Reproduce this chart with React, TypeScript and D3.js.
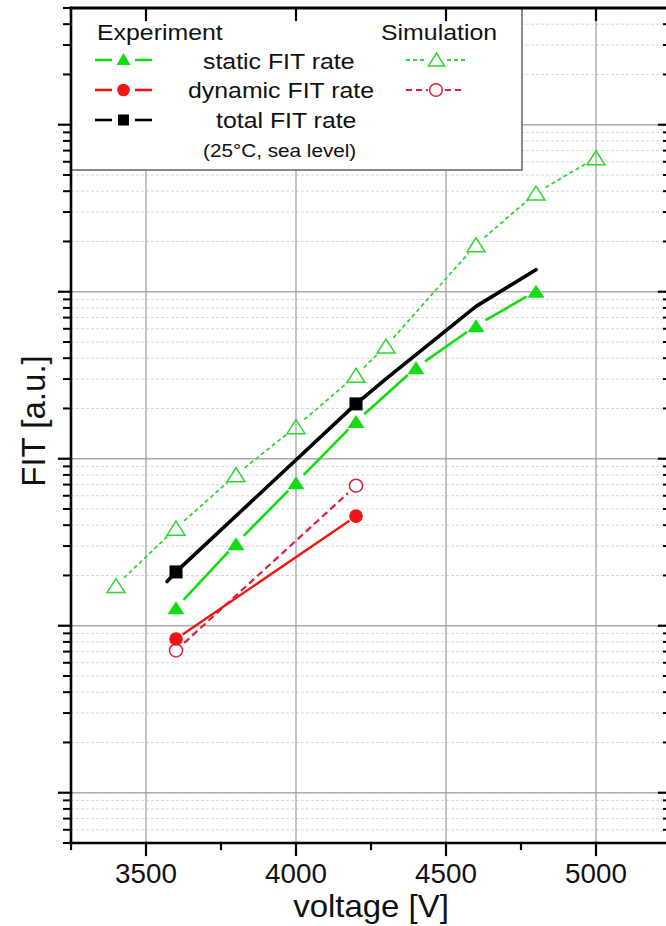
import React from "react";
import * as d3 from "d3";

// ---- data ----
const staticExpV = [3600, 3800, 4000, 4200, 4400, 4600, 4800];
const staticExpFit = [12.8, 31.0, 71.8, 167, 351, 626, 1007];

const dynamicExpV = [3600, 4200];
const dynamicExpFit = [8.33, 45.3];

const totalExpV = [3600, 4200];
const totalExpFit = [21.0, 213];
const totalLineV = [3570, 3600, 4200, 4300, 4600, 4800];
const totalLineFit = [18.4, 21.0, 213, 301, 817, 1354];

const staticSimV = [3400, 3600, 3800, 4000, 4200, 4300, 4600, 4800, 5000];
const staticSimFit = [17.4, 38.4, 80.2, 155.5, 316, 473, 1911, 3899, 6343];

const dynamicSimV = [3600, 4200];
const dynamicSimFit = [7.11, 68.9];

const xMajorTicks = [3500, 4000, 4500, 5000];
const xMinorTicks = [3250, 3750, 4250, 4750, 5250];
const yMajorTicks = [1, 10, 100, 1000, 10000];

const expHeader = "Experiment";
const simHeader = "Simulation";
const legendLabels = ["static FIT rate", "dynamic FIT rate", "total FIT rate"];
const legendNote = "(25°C, sea level)";
const xTitle = "voltage [V]";
const yTitle = "FIT [a.u.]";

// ---- styling ----
const W = 666;
const H = 926;
const FONT = "'Liberation Sans', Arial, Helvetica, sans-serif";
const GREEN = "#14dc14";
const GREEN_SIM = "#2ed82e";
const RED = "#f01414";
const RED_SIM = "#e0203a";

const x = d3.scaleLinear().domain([3250, 5250]).range([71, 671]);
const y = d3.scaleLog().domain([0.5, 50000]).range([843, 8]);

const yMinorTicks: number[] = [];
for (let e = -1; e <= 4; e++) {
  for (let k = 2; k <= 9; k++) {
    const v = k * Math.pow(10, e);
    if (v >= 0.5 && v <= 50000) yMinorTicks.push(v);
  }
}

type Pt = [number, number];

const toPts = (vs: number[], fs: number[]): Pt[] => vs.map((v, i) => [x(v), y(fs[i])]);

// line segments between consecutive points, pulled back from the symbols by `gap`
function gappedSegments(pts: Pt[], gap: number) {
  const segs: { x1: number; y1: number; x2: number; y2: number }[] = [];
  for (let i = 0; i < pts.length - 1; i++) {
    const [ax, ay] = pts[i];
    const [bx, by] = pts[i + 1];
    const len = Math.hypot(bx - ax, by - ay);
    if (len <= 2 * gap) continue;
    const ux = (bx - ax) / len;
    const uy = (by - ay) / len;
    segs.push({ x1: ax + ux * gap, y1: ay + uy * gap, x2: bx - ux * gap, y2: by - uy * gap });
  }
  return segs;
}

const triPath = (cx: number, cy: number, hw = 8, h = 13) =>
  `M${cx},${cy - h / 2}L${cx + hw},${cy + h / 2}L${cx - hw},${cy + h / 2}Z`;

function STxt(props: { x: number; y: number; size: number; sx?: number; anchor?: string; children: React.ReactNode }) {
  const { x: tx, y: ty, size, sx = 1, anchor = "start", children } = props;
  return (
    <text
      transform={`translate(${tx},${ty}) scale(${sx},1)`}
      fontSize={size}
      fontFamily={FONT}
      textAnchor={anchor}
      fill="#111"
    >
      {children}
    </text>
  );
}

export default function App() {
  const [x0, x1] = x.range();
  const [yb, yt] = y.range();

  const staticExp = toPts(staticExpV, staticExpFit);
  const dynamicExp = toPts(dynamicExpV, dynamicExpFit);
  const totalExp = toPts(totalExpV, totalExpFit);
  const totalLine = toPts(totalLineV, totalLineFit);
  const staticSim = toPts(staticSimV, staticSimFit);
  const dynamicSim = toPts(dynamicSimV, dynamicSimFit);

  const lineGen = d3.line<Pt>().x((d) => d[0]).y((d) => d[1]);

  const legendRows = [60, 90, 120];
  const legendTextY = [69, 98, 128];
  const legendTextX = [203, 188, 216];

  return (
    <svg
      width={W}
      height={H}
      viewBox={`0 0 ${W} ${H}`}
      style={{ position: "absolute", left: 0, top: 0, background: "#fff" }}
    >
      <rect x={0} y={0} width={W} height={H} fill="#fff" />

      {/* grid */}
      <g>
        {yMinorTicks.map((v) => (
          <line key={"ym" + v} x1={x0} x2={x1} y1={y(v)} y2={y(v)} stroke="#d6d6d6" strokeWidth={1} strokeDasharray="3,2" />
        ))}
        {yMajorTicks.map((v) => (
          <line key={"yM" + v} x1={x0} x2={x1} y1={y(v)} y2={y(v)} stroke="#ababab" strokeWidth={1.5} />
        ))}
        {xMajorTicks.map((v) => (
          <line key={"xM" + v} x1={x(v)} x2={x(v)} y1={yt} y2={yb} stroke="#9c9c9c" strokeWidth={1.2} />
        ))}
      </g>

      {/* simulation curves */}
      {gappedSegments(staticSim, 11).map((s, i) => (
        <line key={"ss" + i} {...s} stroke={GREEN_SIM} strokeWidth={1.8} strokeDasharray="4,3" />
      ))}
      {gappedSegments(dynamicSim, 11).map((s, i) => (
        <line key={"ds" + i} {...s} stroke={RED_SIM} strokeWidth={2.2} strokeDasharray="7,4" />
      ))}

      {/* experiment curves */}
      {gappedSegments(staticExp, 11).map((s, i) => (
        <line key={"se" + i} {...s} stroke={GREEN} strokeWidth={2.6} />
      ))}
      {gappedSegments(dynamicExp, 8).map((s, i) => (
        <line key={"de" + i} {...s} stroke={RED} strokeWidth={2.4} />
      ))}
      <path d={lineGen(totalLine) || ""} fill="none" stroke="#000" strokeWidth={3.6} strokeLinecap="round" strokeLinejoin="round" />

      {/* symbols */}
      {staticSim.map(([px, py], i) => (
        <path key={"sst" + i} d={triPath(px, py, 9, 14)} fill="none" stroke={GREEN_SIM} strokeWidth={1.5} />
      ))}
      {dynamicSim.map(([px, py], i) => (
        <circle key={"dsc" + i} cx={px} cy={py} r={6.5} fill="#fff" stroke={RED_SIM} strokeWidth={1.5} />
      ))}
      {staticExp.map(([px, py], i) => (
        <path key={"set" + i} d={triPath(px, py, 8.5, 13)} fill={GREEN} />
      ))}
      {dynamicExp.map(([px, py], i) => (
        <circle key={"dec" + i} cx={px} cy={py} r={6.8} fill={RED} />
      ))}
      {totalExp.map(([px, py], i) => (
        <rect key={"tes" + i} x={px - 6.5} y={py - 6.5} width={13} height={13} fill="#000" />
      ))}

      {/* legend */}
      <rect x={x0} y={yt} width={451} height={162} fill="#fff" stroke="#6e6e6e" strokeWidth={1.6} />
      <STxt x={97} y={40} size={22} sx={1.13}>{expHeader}</STxt>
      <STxt x={381} y={40} size={22} sx={1.13}>{simHeader}</STxt>
      {legendLabels.map((t, i) => (
        <STxt key={t} x={legendTextX[i]} y={legendTextY[i]} size={22} sx={1.13}>{t}</STxt>
      ))}
      <STxt x={203} y={157} size={18.5} sx={1.12}>{legendNote}</STxt>

      {/* experiment legend keys */}
      {[GREEN, RED, "#000"].map((c, i) => (
        <g key={"lk" + i}>
          <line x1={95} x2={112} y1={legendRows[i]} y2={legendRows[i]} stroke={c} strokeWidth={2.6} />
          <line x1={135} x2={152} y1={legendRows[i]} y2={legendRows[i]} stroke={c} strokeWidth={2.6} />
        </g>
      ))}
      <path d={triPath(123.5, 59, 7, 12)} fill={GREEN} />
      <circle cx={123.5} cy={90} r={6.3} fill={RED} />
      <rect x={118} y={114.5} width={11} height={11} fill="#000" />

      {/* simulation legend keys */}
      <line x1={406} x2={426} y1={60} y2={60} stroke={GREEN_SIM} strokeWidth={1.8} strokeDasharray="4,3" />
      <line x1={447} x2={467} y1={60} y2={60} stroke={GREEN_SIM} strokeWidth={1.8} strokeDasharray="4,3" />
      <path d={triPath(436.5, 59.5, 8, 13)} fill="none" stroke={GREEN_SIM} strokeWidth={1.5} />
      <line x1={406} x2={428} y1={90} y2={90} stroke={RED_SIM} strokeWidth={2.2} strokeDasharray="6,4" />
      <line x1={445} x2={465} y1={90} y2={90} stroke={RED_SIM} strokeWidth={2.2} strokeDasharray="6,4" />
      <circle cx={436} cy={90} r={6.3} fill="#fff" stroke={RED_SIM} strokeWidth={1.5} />

      {/* axes frame */}
      <g stroke="#000" strokeLinecap="square">
        <line x1={x0} x2={x0} y1={yt} y2={yb} strokeWidth={2.6} />
        <line x1={x1} x2={x1} y1={yt} y2={yb} strokeWidth={2.6} />
        <line x1={x0} x2={x1} y1={yb} y2={yb} strokeWidth={2.6} />
        <line x1={x0} x2={x1} y1={yt} y2={yt} strokeWidth={3} />
        {/* bottom ticks (out) and top ticks (in) */}
        {xMajorTicks.map((v) => (
          <g key={"xt" + v}>
            <line x1={x(v)} x2={x(v)} y1={yb} y2={yb + 12} strokeWidth={2.2} />
            <line x1={x(v)} x2={x(v)} y1={yt} y2={yt + 12} strokeWidth={2.2} />
          </g>
        ))}
        {xMinorTicks.map((v) => (
          <g key={"xmt" + v}>
            <line x1={x(v)} x2={x(v)} y1={yb} y2={yb + 6} strokeWidth={2.2} />
          </g>
        ))}
        {/* left ticks (out) and right ticks (in) */}
        {yMajorTicks.map((v) => (
          <g key={"yt" + v}>
            <line x1={x0 - 12} x2={x0} y1={y(v)} y2={y(v)} strokeWidth={2.2} />
            <line x1={x1 - 12} x2={x1} y1={y(v)} y2={y(v)} strokeWidth={2.2} />
          </g>
        ))}
        {yMinorTicks.map((v) => (
          <g key={"ymt" + v}>
            <line x1={x0 - 7} x2={x0} y1={y(v)} y2={y(v)} strokeWidth={2} />
            <line x1={x1 - 7} x2={x1} y1={y(v)} y2={y(v)} strokeWidth={2} />
          </g>
        ))}
      </g>

      {/* tick labels */}
      {xMajorTicks.map((v) => (
        <STxt key={"xl" + v} x={x(v)} y={883} size={27} sx={1.03} anchor="middle">
          {String(v)}
        </STxt>
      ))}

      {/* axis titles */}
      <STxt x={(x0 + x1) / 2} y={917} size={32} sx={1.03} anchor="middle">{xTitle}</STxt>
      <text
        transform={`translate(45,421) rotate(-90)`}
        fontSize={33}
        fontFamily={FONT}
        textAnchor="middle"
        fill="#111"
      >
        {yTitle}
      </text>
    </svg>
  );
}
